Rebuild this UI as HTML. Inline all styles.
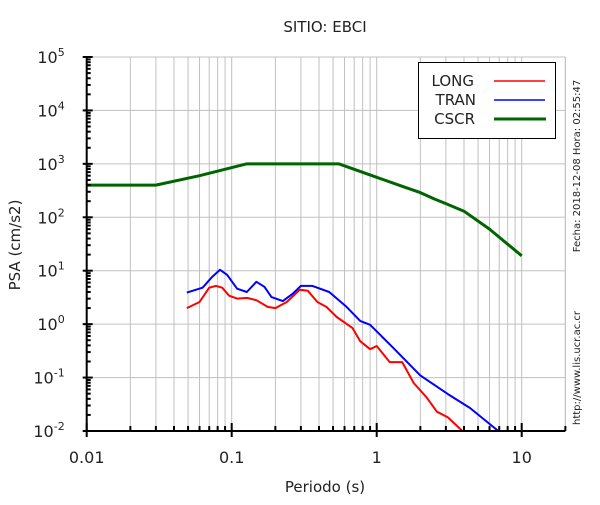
<!DOCTYPE html>
<html><head><meta charset="utf-8"><style>
body{margin:0;background:#fff;}
svg text{font-family:"DejaVu Sans","Liberation Sans",sans-serif;fill:#222;}
</style></head><body>
<svg id="chart" width="600" height="500" viewBox="0 0 600 500" xmlns="http://www.w3.org/2000/svg">
<rect width="600" height="500" fill="#fff"/>
<g id="grid"></g>
<g id="series"></g>
<g id="axes"></g>
<text x="325" y="32" font-size="15" text-anchor="middle">SITIO: EBCI</text>
<text x="325" y="492" font-size="15" text-anchor="middle">Periodo (s)</text>
<text transform="translate(20,245) rotate(-90)" font-size="15" text-anchor="middle">PSA (cm/s2)</text>
<text transform="translate(580,166) rotate(-90)" font-size="10" text-anchor="middle">Fecha: 2018-12-08 Hora: 02:55:47</text>
<text transform="translate(580,368) rotate(-90)" font-size="10" text-anchor="middle">http://www.lis.ucr.ac.cr</text>
<g>
<rect x="418.5" y="62.5" width="137" height="76" fill="#fff" stroke="#000" stroke-width="1"/>
<text x="474" y="86" font-size="15" text-anchor="end">LONG</text>
<line x1="494" y1="81" x2="545" y2="81" stroke="#f00" stroke-width="1.5"/>
<text x="476" y="105" font-size="15" text-anchor="end">TRAN</text>
<line x1="494" y1="100" x2="545" y2="100" stroke="#00f" stroke-width="1.5"/>
<text x="475" y="124" font-size="15" text-anchor="end">CSCR</text>
<line x1="494" y1="119" x2="546" y2="119" stroke="#006400" stroke-width="3"/>
</g>
</svg>
<script>
const xTickValues=[0.01,0.1,1,10];
const xTickLabels=["0.01","0.1","1","10"];
const yTickExps=[-2,-1,0,1,2,3,4,5];
const cscrT=[0.01,0.03,0.06,0.126,0.55,1,1.5,2,2.5,3,4,6,10];
const cscrV=[400,400,600,1000,1000,560,380,290,220,180,130,60,19];
const longT=[0.049,0.06,0.07,0.078,0.086,0.096,0.109,0.128,0.148,0.177,0.2,0.24,0.294,0.335,0.39,0.45,0.53,0.68,0.77,0.9,1.0,1.23,1.5,1.8,2.2,2.6,3.1,3.9];
const longV=[2.0,2.6,4.8,5.2,4.8,3.4,3.0,3.1,2.8,2.1,2.0,2.6,4.4,4.2,2.6,2.1,1.36,0.85,0.48,0.34,0.39,0.195,0.195,0.079,0.043,0.023,0.018,0.0095];
const tranT=[0.049,0.063,0.073,0.083,0.093,0.109,0.127,0.148,0.168,0.188,0.225,0.263,0.3,0.36,0.47,0.62,0.77,0.9,1.3,2.0,3.1,4.4,6.9];
const tranV=[3.9,4.8,7.6,10.4,8.4,4.6,4.0,6.2,5.0,3.2,2.7,3.7,5.2,5.2,4.0,2.1,1.15,0.97,0.36,0.11,0.049,0.027,0.0098];

const X0=86.7,DX=145,Y0=431,DY=53.43;
const xs=t=>X0+DX*Math.log10(t/0.01);
const ys=v=>Y0-DY*(Math.log10(v)+2);
const NS="http://www.w3.org/2000/svg";
function mk(tag,attrs,parent){const e=document.createElementNS(NS,tag);for(const k in attrs)e.setAttribute(k,attrs[k]);parent.appendChild(e);return e;}
const grid=document.getElementById('grid'),axes=document.getElementById('axes'),series=document.getElementById('series');
const XL=X0,XR=xs(20),YT=ys(1e5),YB=Y0;
for(let d=0.01;d<20;d*=10){for(let m=1;m<10;m++){const t=d*m;if(t>20)break;const x=xs(t);
 if(t>0.0101){const l=mk('line',{x1:x,y1:YT,x2:x,y2:YB,stroke:'#c0c0c0','stroke-width':1},grid);
 
 }
 mk('line',{x1:x,y1:YB,x2:x,y2:YB-(m===1?8:5),stroke:'#000','stroke-width':2},axes);
 if(m===1)mk('line',{x1:x,y1:YB,x2:x,y2:YB+6,stroke:'#000','stroke-width':2},axes);}}
mk('line',{x1:XR,y1:YT,x2:XR,y2:YB,stroke:'#c0c0c0','stroke-width':1},grid);
yTickExps.forEach(e=>{const y=ys(Math.pow(10,e));
 if(e>-2){const l=mk('line',{x1:XL,y1:y,x2:XR,y2:y,stroke:'#c0c0c0','stroke-width':1},grid);
 
 }
 mk('line',{x1:XL-4,y1:y,x2:XL+6,y2:y,stroke:'#000','stroke-width':2},axes);
 if(e<5)for(let m=2;m<10;m++){const yy=ys(m*Math.pow(10,e));mk('line',{x1:XL,y1:yy,x2:XL+4,y2:yy,stroke:'#000','stroke-width':2},axes);}
 const t=mk('text',{x:XL-22,y:y+6,'font-size':16,'text-anchor':'end'},axes);
 
 
 t.textContent='10';
 const s=mk('tspan',{dy:-7,'font-size':11},t);s.textContent=String(e);
});
mk('line',{x1:XL,y1:YT,x2:XL,y2:YB+1,stroke:'#000','stroke-width':2},axes);
mk('line',{x1:XL-1,y1:YB,x2:XR,y2:YB,stroke:'#000','stroke-width':2},axes);
xTickValues.forEach((v,i)=>{const t=mk('text',{x:xs(v),y:YB+32,'font-size':16,'text-anchor':'middle'},axes);
 
 
 t.textContent=xTickLabels[i];});
function line(T,V,color,w,name){const d=T.map((t,i)=>(i?'L':'M')+xs(t).toFixed(1)+','+Math.min(ys(V[i]),YB).toFixed(1)).join('');
 const p=mk('path',{d:d,fill:'none',stroke:color,'stroke-width':w,'stroke-linejoin':'round'},series);
 
 }
line(cscrT,cscrV,'#006400',3,'cscr-line');
line(longT,longV,'#f00',2,'long-line');
line(tranT,tranV,'#00f',2,'tran-line');
</script>
</body></html>
